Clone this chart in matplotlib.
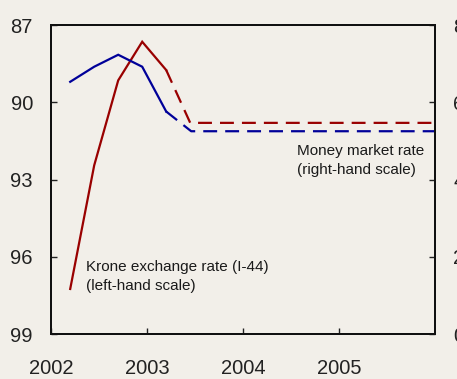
import matplotlib
matplotlib.use('Agg')
import matplotlib.pyplot as plt

plt.rcParams['font.family'] = ['Liberation Sans', 'DejaVu Sans']
plt.rcParams['lines.scale_dashes'] = False

# krone exchange rate, I-44 (left-hand scale, inverted)
krone_x = [2002.2, 2002.45, 2002.7, 2002.95, 2003.2]
krone = [97.25, 92.45, 89.15, 87.65, 88.75]
krone_proj_x = [2003.2, 2003.45, 2006.0]
krone_proj = [88.75, 90.8, 90.8]

# money market rate (right-hand scale)
money_x = [2002.2, 2002.45, 2002.7, 2002.95, 2003.2]
money = [6.53, 6.92, 7.23, 6.92, 5.76]
money_proj_x = [2003.2, 2003.46, 2006.0]
money_proj = [5.76, 5.25, 5.25]

years = [2002, 2003, 2004, 2005]
left_ticks = [87, 90, 93, 96, 99]
right_ticks = [0, 2, 4, 6, 8]

bg = '#f2efe9'
red = '#990000'
blue = '#000099'

fig = plt.figure(figsize=(4.57, 3.79), dpi=100, facecolor=bg)
ax = fig.add_axes([0.1116, 0.1187, 0.8403, 0.8153])
ax.set_facecolor(bg)
ax2 = ax.twinx()

ax.plot(krone_x, krone, color=red, lw=1.6, solid_joinstyle='miter')
ax.plot(krone_proj_x, krone_proj, color=red, lw=1.6, dashes=(10, 5.8))
ax2.plot(money_x, money, color=blue, lw=1.6, solid_joinstyle='miter')
ax2.plot(money_proj_x, money_proj, color=blue, lw=1.6, dashes=(10, 5.8))

ax.set_xlim(2002, 2006)
ax.set_ylim(99, 87)
ax2.set_ylim(0, 8)
ax.set_xticks(years)
ax.set_xticklabels([str(y) for y in years])
ax.set_yticks(left_ticks)
ax2.set_yticks(right_ticks)

for a in (ax, ax2):
    for s in a.spines.values():
        s.set_linewidth(1.4)
        s.set_color('#111111')
ax.tick_params(axis='y', direction='in', length=4.5, width=1, pad=13,
               labelsize=14.5, colors='#222222')
ax.tick_params(axis='x', direction='in', length=4.5, width=1, pad=18,
               labelsize=14.5, colors='#222222')
ax2.tick_params(axis='y', direction='in', length=4.5, width=1, pad=13,
                labelsize=14.5, colors='#222222')

ax.text(0.091, 0.24, 'Krone exchange rate (I-44)\n(left-hand scale)',
        transform=ax.transAxes, ha='left', va='top', fontsize=11,
        color='#1a1a1a', linespacing=1.45)
ax.text(0.641, 0.615, 'Money market rate\n(right-hand scale)',
        transform=ax.transAxes, ha='left', va='top', fontsize=11,
        color='#1a1a1a', linespacing=1.45)

fig.savefig('out.png', dpi=100, facecolor=bg)
